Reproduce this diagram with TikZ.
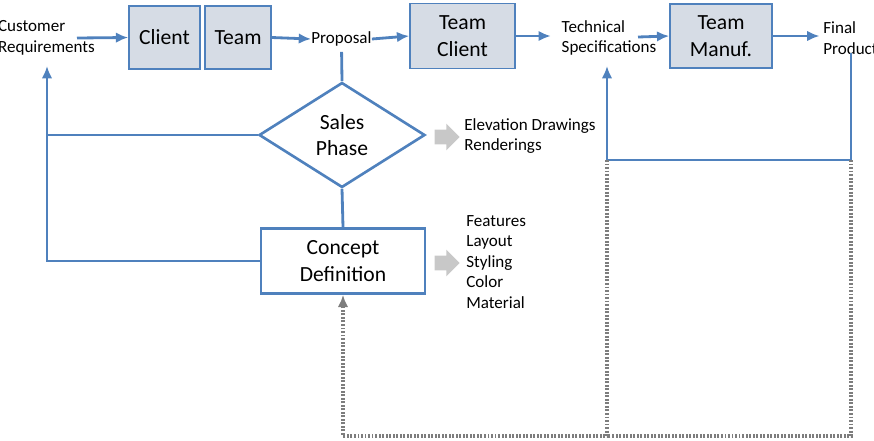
\documentclass[tikz,border=0pt]{standalone}
\usepackage{fontspec}
\setmainfont{Carlito}
\usetikzlibrary{shapes.geometric, shapes.arrows, arrows.meta}
\definecolor{flowcolor}{RGB}{79,129,189}
\definecolor{boxcolor}{RGB}{214,220,229}
\definecolor{backcolor}{RGB}{125,125,125}
\definecolor{hintcolor}{RGB}{200,200,200}

\begin{document}
\begin{tikzpicture}[x=0.02cm, y=-0.02cm]
  \tikzset{
    stage/.style={
      draw=flowcolor,
      line width=0.9pt,
      fill=boxcolor,
      align=center,
      font=\fontsize{12.3}{15.3}\selectfont
    },
    phase/.style={
      draw=flowcolor,
      line width=1.5pt,
      fill=white,
      align=center,
      font=\fontsize{12.3}{15}\selectfont
    },
    note/.style={
      align=left,
      inner sep=0pt,
      font=\fontsize{9.7}{11.7}\selectfont
    },
    hint/.style={
      single arrow,
      fill=hintcolor,
      draw=none,
      inner xsep=0pt,
      inner ysep=0.14cm,
      minimum height=0.5cm,
      single arrow head extend=0.12cm
    },
    wire/.style={draw=flowcolor, line width=1.6pt},
    flow/.style={wire, -{Latex[length=7pt,width=6pt]}},
    feedback/.style={draw=backcolor, line width=2pt, dash pattern=on 1.1pt off 0.9pt}
  }
  \useasboundingbox (0,0) rectangle (874,440);

  % Top row
  \node[note] (req) at (46.5,38) {Customer\\Requirements};
  \node[stage, minimum width=1.42cm, minimum height=1.26cm] (client) at (164.5,37.5) {Client};
  \node[stage, minimum width=1.32cm, minimum height=1.26cm] (team) at (238,37.5) {Team};
  \node[note] (prop) at (341.5,39) {Proposal};
  \node[stage, minimum width=2.1cm, minimum height=1.3cm] (teamclient) at (462.5,36) {Team\\Client};
  \node[note] (spec) at (609,38) {Technical\\Specifications};
  \node[stage, minimum width=2.04cm, minimum height=1.28cm] (teammanuf) at (721,36) {Team\\Manuf.};
  \node[note, anchor=west] (final) at (823,38) {Final\\Product};

  % Sales phase and concept
  \node[phase, diamond, minimum width=3.32cm, minimum height=2.1cm, inner sep=0pt] (sales) at (342,135) {Sales\\Phase};
  \node[phase, minimum width=3.28cm, minimum height=1.3cm] (concept) at (343,261) {Concept\\Definition};

  % Outputs (gray)
  \node[hint] (salesout) at (443.5,137) {};
  \node[hint] (conceptout) at (443.5,263) {};
  \node[note, anchor=west] (drawings) at (464,136) {Elevation Drawings\\Renderings};
  \node[note, anchor=west] (features) at (466,262) {Features\\Layout\\Styling\\Color\\Material};

  % Main flow
  \coordinate (reqout) at (77,38);
  \coordinate (specout) at (638,37);
  \draw[flow] (reqout) -- (client.west);
  \draw[flow] (team.east) -- (prop.west);
  \draw[flow] (prop.east) -- (teamclient.west);
  \draw[flow, shorten >=6pt] (teamclient.east) -- (teamclient.east -| spec.west);
  \draw[flow] (specout) -- (teammanuf.west);
  \draw[flow, shorten >=2pt] (teammanuf.east) -- (teammanuf.east -| final.west);

  % Left loop
  \coordinate (reqin) at (47,66);
  \draw[wire, shorten <=3pt] (prop.south) -- (sales.north);
  \draw[wire] (sales.south) -- (concept.north);
  \draw[wire] (sales.west) -- (sales.west -| reqin);
  \draw[flow] (concept.west) -| (reqin);

  % Right loop
  \coordinate (specin) at (607,66);
  \coordinate (finout) at (851,53);
  \coordinate (loopleft) at (607,160);
  \coordinate (loopright) at (851,160);
  \draw[flow] (finout) -- (loopright) -- (loopleft) -- (specin);

  % Feedback to concept (dotted)
  \coordinate (floorleft) at (343,436);
  \draw[feedback, -{Latex[length=7pt,width=6pt]}] (loopleft) -- (loopleft |- floorleft) -- (floorleft) -- (concept.south);
  \draw[feedback] (loopright) -- (loopright |- floorleft) -- (loopleft |- floorleft);
\end{tikzpicture}
\end{document}
